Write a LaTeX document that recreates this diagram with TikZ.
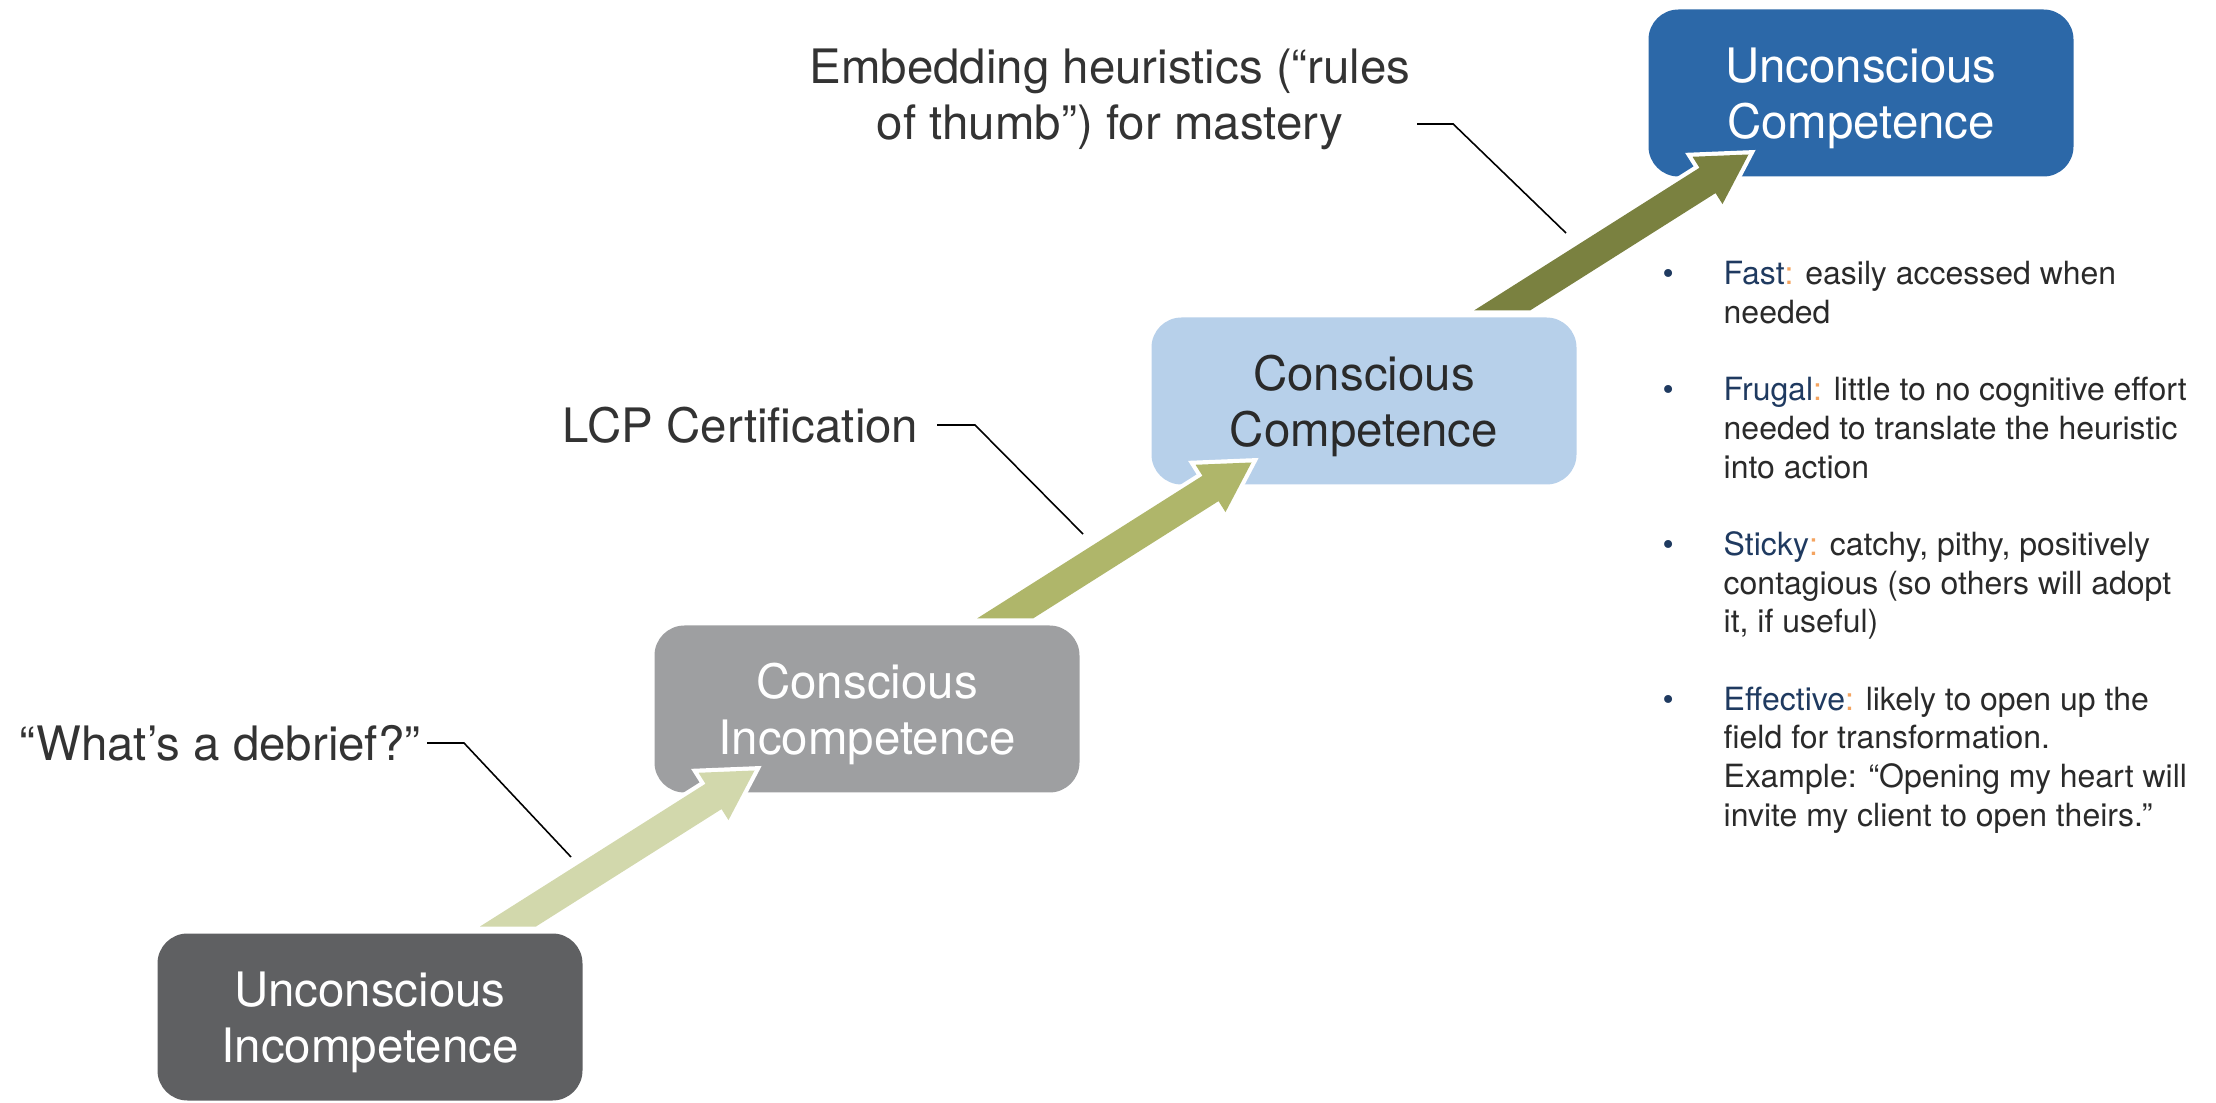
\documentclass[tikz,border=0pt]{standalone}
\usepackage{fontspec}
\setmainfont{TeX Gyre Heros}
\usetikzlibrary{positioning}
\usetikzlibrary{calc}

\definecolor{uicol}{HTML}{5F6062}
\definecolor{cicol}{HTML}{9E9FA1}
\definecolor{cccol}{HTML}{B7D0EA}
\definecolor{uccol}{HTML}{2C68A8}
\definecolor{arrowa}{HTML}{D2D8AC}
\definecolor{arrowb}{HTML}{AFB66A}
\definecolor{arrowc}{HTML}{7A8140}
\definecolor{txtgray}{HTML}{333333}
\definecolor{txtdark}{HTML}{2A2A2A}
\definecolor{keyblue}{HTML}{1F3A60}
\definecolor{colonorange}{HTML}{F4A460}

\tikzset{stage/.style = {rounded corners = 0.3cm, minimum width = 4.25cm, minimum height = 1.67cm,
                         align = center, inner sep = 0, outer sep = 0, text = white,
                         text height = 28.6pt, text depth = 2.9pt,
                         font = \fontsize{13.5}{15.8}\selectfont}}
\tikzset{note/.style = {font = \fontsize{13.5}{16}\selectfont, text = txtgray, inner sep = 0.06cm}}
\tikzset{leader/.style = {draw = black, line width = 0.45pt}}
\tikzset{stairs/.style = {preaction = {draw = white, line width = 2.4pt, line join = miter}}}

\newcommand{\key}[1]{\textcolor{keyblue}{#1}\textcolor{colonorange}{:}}

% fat arrow, horizontal tail at #2, tip at #3
\newcommand{\stairarrow}[3]{%
  \path ($(#3)!0.485cm!(#2)$) coordinate (#3-base);
  \fill[stairs, fill = #1] ($(#2)+(-0.28,0)$)
    -- ($(#3-base)!0.15cm!90:(#3)$) -- ($(#3-base)!0.28cm!90:(#3)$)
    -- (#3)
    -- ($(#3-base)!0.28cm!-90:(#3)$) -- ($(#3-base)!0.15cm!-90:(#3)$)
    -- ($(#2)+(0.28,0)$) -- cycle;}

\begin{document}
\begin{tikzpicture}
      \useasboundingbox (0, 0) rectangle (22.16, 11.02);

      \node [stage, fill = uicol] (ui) at (3.70, 0.85) {Unconscious\\Incompetence};
      \node [stage, fill = cicol, above right = 1.41cm and 0.72cm of ui] (ci) {Conscious\\Incompetence};
      \node [stage, fill = cccol, text = txtdark, above right = 1.41cm and 0.72cm of ci] (cc) {Conscious\\Competence};
      \node [stage, fill = uccol, above right = 1.41cm and 0.72cm of cc] (uc) {Unconscious\\Competence};

      \coordinate (a1s) at ($(ui.north) + (1.38, 0.07)$);
      \coordinate (a1e) at ($(ci.south west) + (1.00, 0.22)$);
      \coordinate (a2s) at ($(ci.north) + (1.38, 0.07)$);
      \coordinate (a2e) at ($(cc.south west) + (1.00, 0.22)$);
      \coordinate (a3s) at ($(cc.north) + (1.38, 0.07)$);
      \coordinate (a3e) at ($(uc.south west) + (1.00, 0.22)$);

      \stairarrow{arrowa}{a1s}{a1e}
      \stairarrow{arrowb}{a2s}{a2e}
      \stairarrow{arrowc}{a3s}{a3e}

      \node [note, anchor = east] (debrief) at (4.27, 3.59) {“What’s a debrief?”};
      \coordinate (debriefend) at (5.71, 2.45);
      \draw [leader] (debrief.east) -- ++(0.37, 0) -- (debriefend);

      \node [note, anchor = east, inner xsep = 0.18cm] (lcp) at (9.37, 6.77) {LCP Certification};
      \coordinate (lcpend) at (10.83, 5.68);
      \draw [leader] (lcp.east) -- ++(0.38, 0) -- (lcpend);

      \node [note, align = center] (embed) at (11.10, 10.03) {Embedding heuristics (“rules\\of thumb”) for mastery};
      \coordinate (embedend) at (15.66, 8.69);
      \draw [leader] ([yshift = -0.25cm]embed.east) -- ++(0.36, 0) -- (embedend);

      \node [anchor = base west, inner sep = 0, text = txtdark, font = \fontsize{9.1}{11}\selectfont] (traits) at (16.62, 8.17) {%
        \begin{tabular}[t]{@{}p{0.61cm}@{}l@{}}
          \textcolor{keyblue}{\textbullet} & \key{Fast} easily accessed when\\
          & needed\\[11pt]
          \textcolor{keyblue}{\textbullet} & \key{Frugal} little to no cognitive effort\\
          & needed to translate the heuristic\\
          & into action\\[11pt]
          \textcolor{keyblue}{\textbullet} & \key{Sticky} catchy, pithy, positively\\
          & contagious (so others will adopt\\
          & it, if useful)\\[11pt]
          \textcolor{keyblue}{\textbullet} & \key{Effective} likely to open up the\\
          & field for transformation.\\
          & Example: “Opening my heart will\\
          & invite my client to open theirs.”
        \end{tabular}};
    \end{tikzpicture}
\end{document}
